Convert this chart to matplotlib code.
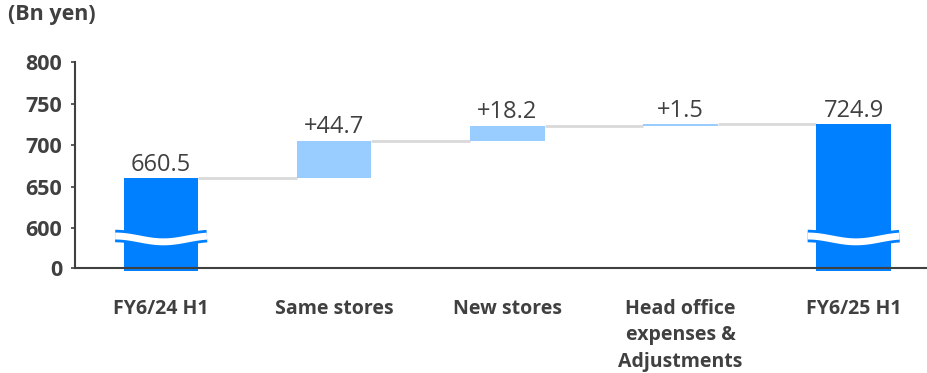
import numpy as np
import matplotlib
matplotlib.use("Agg")
import matplotlib.pyplot as plt

plt.rcParams['font.family'] = ['Open Sans', 'DejaVu Sans']

categories = ["FY6/24 H1", "Same stores", "New stores", "Head office\nexpenses &\nAdjustments", "FY6/25 H1"]
start_value = 660.5
deltas = [44.7, 18.2, 1.5]
end_value = 724.9
value_labels = ["660.5", "+44.7", "+18.2", "+1.5", "724.9"]
tick_values = [0, 600, 650, 700, 750, 800]

# broken axis: 0 sits a bit below 600
offset = 552
def to_axis(v):
    return np.where(np.asarray(v) >= 600, np.asarray(v) - offset, np.asarray(v))

dark_blue = "#0080ff"
light_blue = "#99ccff"
text_col = "#404040"

fig = plt.figure(figsize=(9.28, 3.73), dpi=100)
ax = fig.add_axes([75/928, 105/373, 853/928, (268-62)/373])

x = np.arange(len(categories))
width = 0.43
bar_bottom = -4

# running totals
cum = [start_value]
for d in deltas:
    cum.append(cum[-1] + d)

ax.bar(x[0], to_axis(start_value) - bar_bottom, bottom=bar_bottom, width=width,
       color=dark_blue, zorder=1, clip_on=False)
ax.bar(x[-1], to_axis(end_value) - bar_bottom, bottom=bar_bottom, width=width,
       color=dark_blue, zorder=1, clip_on=False)
for i, d in enumerate(deltas):
    lo = to_axis(cum[i])
    hi = to_axis(cum[i + 1])
    ax.bar(x[i + 1], hi - lo, bottom=lo, width=width, color=light_blue, zorder=1)

# connectors
for i in range(len(categories) - 1):
    lvl = to_axis(cum[i]) if i < len(cum) else to_axis(end_value)
    ax.plot([x[i] + width/2, x[i + 1] - width/2], [lvl, lvl], color="#d9d9d9",
            lw=2, zorder=0.5, solid_capstyle="butt")

# value labels
tops = [start_value] + cum[1:] + [end_value]
for i, lab in enumerate(value_labels):
    ax.text(x[i], to_axis(tops[i]) + 1.5, lab, ha="center", va="bottom",
            fontsize=17, color=text_col)

# break marks on the total bars
s = np.linspace(0, 1, 60)
for xi in [x[0], x[-1]]:
    xs = xi - width/2 - 0.05 + s * (width + 0.1)
    ys = 35 + 3.5 * np.cos(2 * np.pi * s * 0.95)
    ax.plot(xs, ys, color=dark_blue, lw=9, zorder=3, clip_on=False, solid_capstyle="butt")
    ax.plot(xs, ys, color="white", lw=5, zorder=4, clip_on=False, solid_capstyle="butt")

ax.set_xlim(-0.497, 4.43)
ax.set_ylim(0, 248)
ax.set_yticks(to_axis(tick_values))
ax.set_yticklabels([str(v) for v in tick_values], fontsize=15.5, fontweight="bold", color=text_col)
ax.set_xticks(x)
ax.set_xticklabels(categories, fontsize=14, fontweight="bold", color=text_col,
                   linespacing=1.45, va="top")
ax.tick_params(axis="x", length=0, pad=22)
ax.tick_params(axis="y", length=3, width=1.2, color=text_col, pad=6)

for sp in ["top", "right"]:
    ax.spines[sp].set_visible(False)
for sp in ["left", "bottom"]:
    ax.spines[sp].set_color(text_col)
    ax.spines[sp].set_linewidth(1.5)

fig.text(8/928, 1 - 4/373, "(Bn yen)", ha="left", va="top", fontsize=15.5,
         fontweight="bold", color=text_col)

fig.savefig("out.png", dpi=100)
